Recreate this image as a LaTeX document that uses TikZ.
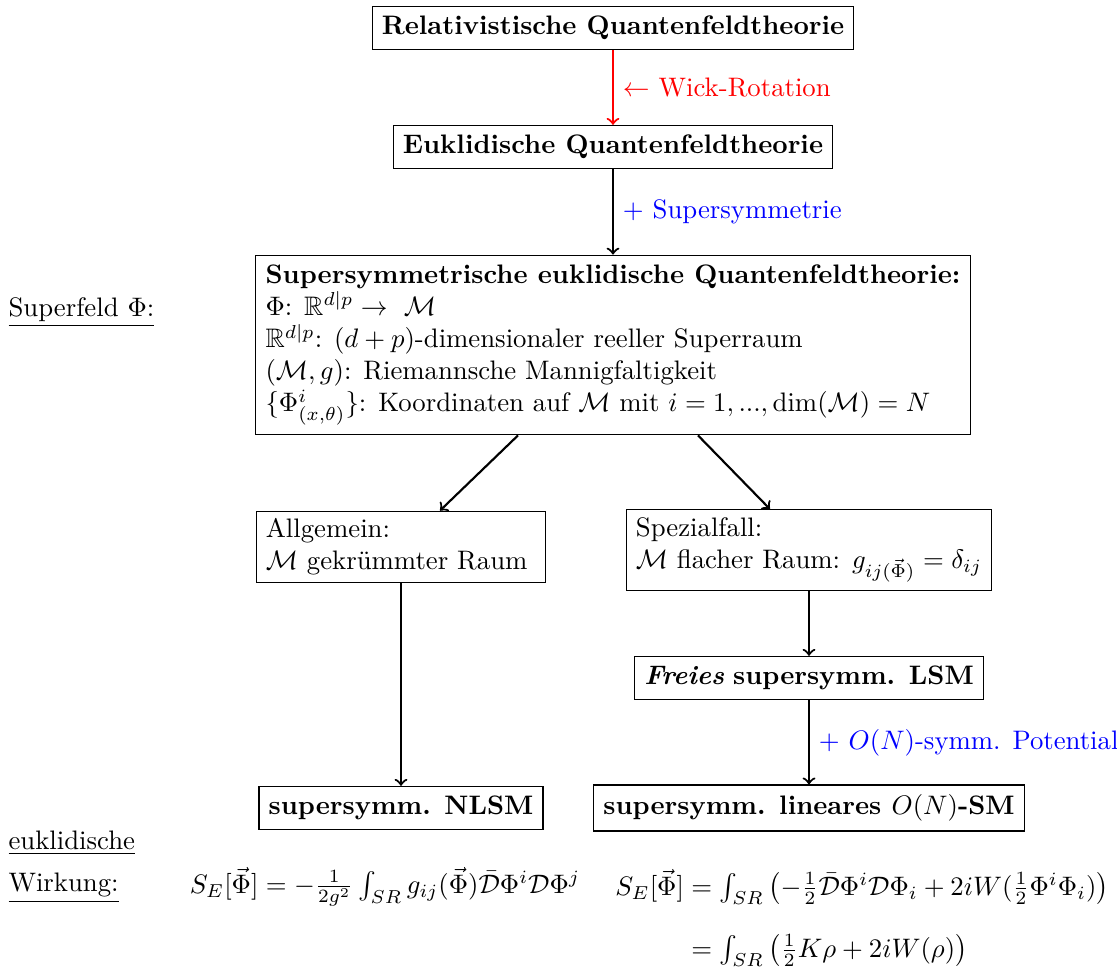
\documentclass[tikz,border=0pt]{standalone}
\usepackage{amsmath,amssymb}
\usepackage{tikz}
\usetikzlibrary{calc}
\tikzset{
  kasten/.style={draw, thin, fill=white, inner sep=3.6pt},
  pfeil/.style={->, thick},
}

\begin{document}
\begin{tikzpicture}[x=0.3738pt, y=-0.3738pt]
		%%%%% START %%%%%
		\useasboundingbox (0, 0) rectangle (1117, 974);
		
		\node[kasten, font=\bfseries] (relqft) at (613, 28) {Relativistische Quantenfeldtheorie};
		\node[kasten, font=\bfseries] (euqft) at (613, 147) {Euklidische Quantenfeldtheorie};
		\node[kasten, align=left] (susyqft) at (613, 345) {\textbf{Supersymmetrische euklidische Quantenfeldtheorie:}\\
			$\Phi$: $\mathbb{R}^{d|p} \rightarrow\ \mathcal{M}$\\
			$\mathbb{R}^{d|p}$: $(d+p)$-dimensionaler reeller Superraum\\
			$(\mathcal{M},g)$: Riemannsche Mannigfaltigkeit\\
			$\{\Phi^i_{(x,\theta)}\}$: Koordinaten auf $\mathcal{M}$ mit $i=1,...,\dim(\mathcal{M})=N$};
		
		\node[kasten, align=left, text width=101pt, inner ysep=2.8pt] (allg) at (401, 547) {Allgemein:\\$\mathcal{M}$ gekr\"ummter Raum};
		\node[kasten, align=left, inner ysep=3pt] (spez) at (809, 550) {Spezialfall:\\$\mathcal{M}$ flacher Raum: $g_{ij(\vec{\Phi})}=\delta_{ij}$};
		\node[kasten] (freilsm) at (809, 678) {\textbf{\textit{Freies}} \textbf{supersymm. LSM}};
		\node[kasten, font=\bfseries] (nlsm) at (401, 808) {supersymm. NLSM};
		\node[kasten, font=\bfseries] (linsm) at (809, 808) {supersymm. lineares $O(N)$-SM};
		
		\draw[pfeil, red] (relqft) -- node[right] {$\leftarrow$ Wick-Rotation} (euqft);
		\draw[pfeil] (euqft) -- node[right, blue] {$+$ Supersymmetrie} (susyqft);
		\draw[pfeil] ($(susyqft.south)+(-95,0)$) -- ($(allg.north)+(39,0)$);
		\draw[pfeil] ($(susyqft.south)+(85,0)$) -- ($(spez.north)+(-39,0)$);
		\draw[pfeil] (allg) -- (nlsm);
		\draw[pfeil] (spez) -- (freilsm);
		\draw[pfeil] (freilsm) -- node[right, blue] {$+$ $O(N)$-symm. Potential} (linsm);
		
		\node[anchor=west, inner sep=0pt] (superfeld) at (8, 312) {\underline{Superfeld $\Phi$:}};
		\node[anchor=west, inner sep=0pt] (eukl) at (8, 843) {\underline{euklidische}};
		\node[anchor=west, inner sep=0pt] (wirkung) at (8, 888) {\underline{Wirkung:}};
		
		\node (wirknlsm) at (385, 887) {$S_E[\vec{\Phi}]=-\frac{1}{2g^2}\int_{SR}g_{ij}(\vec{\Phi})\bar{\mathcal{D}}\Phi^i\mathcal{D}\Phi^j$};
		\node (wirklsm) at (862, 918) {$\begin{aligned}
			S_E[\vec{\Phi}] &= \textstyle\int_{SR}\left(-\frac{1}{2}\bar{\mathcal{D}}\Phi^i\mathcal{D}\Phi_i+2iW(\frac{1}{2}\Phi^i\Phi_i)\right)\\[7pt]
			&= \textstyle\int_{SR}\left(\frac{1}{2}K\rho+2iW(\rho)\right)
			\end{aligned}$};
		%%%%% END %%%%%
\end{tikzpicture}
\end{document}
